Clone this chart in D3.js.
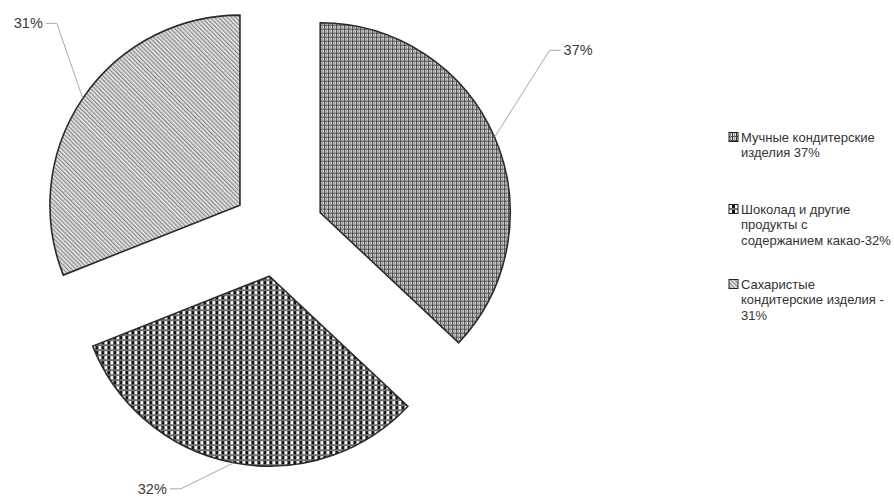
<!DOCTYPE html>
<html><head><meta charset="utf-8">
<script src="https://cdnjs.cloudflare.com/ajax/libs/d3/7.8.5/d3.min.js"></script>
<style>
html,body{margin:0;padding:0;background:#fff;}
svg{display:block;}
text{font-family:"Liberation Sans",Arial,sans-serif;}
</style></head>
<body><svg id="chart" width="894" height="500"></svg>
<script>
// ---- data ----
const categories = ["Мучные кондитерские изделия 37%", "Шоколад и другие продукты с содержанием какао-32%", "Сахаристые кондитерские изделия - 31%"];
const legendLines = [["Мучные кондитерские", "изделия 37%"], ["Шоколад и другие", "продукты с", "содержанием какао-32%"], ["Сахаристые", "кондитерские изделия -", "31%"]];
const values = [37, 32, 31];
const dataLabels = ["37%", "32%", "31%"];

// ---- layout ----
const W = 894, H = 500;
const cx = 278, cy = 231, R = 190, explode = 46;
const labelElbow = [[55, -87, 1], [-53, 26, -1], [-26, -75, -1]]; // dx,dy from arc midpoint, direction
const svg = d3.select("#chart");
const defs = svg.append("defs");

// pattern 1: plaid grid
const p1 = defs.append("pattern").attr("id", "pat0").attr("patternUnits", "userSpaceOnUse").attr("width", 4).attr("height", 4);
p1.append("rect").attr("width", 4).attr("height", 4).attr("fill", "#e2e2e2");
p1.append("rect").attr("x", 0).attr("y", 0).attr("width", 1).attr("height", 4).attr("fill", "#333");
p1.append("rect").attr("x", 0).attr("y", 0).attr("width", 4).attr("height", 1).attr("fill", "#444");
p1.append("rect").attr("x", 2).attr("y", 0).attr("width", 1).attr("height", 4).attr("fill", "#8a8a8a");

// pattern 2: weave checker
const p2 = defs.append("pattern").attr("id", "pat1").attr("patternUnits", "userSpaceOnUse").attr("width", 6).attr("height", 5);
p2.append("rect").attr("width", 6).attr("height", 5).attr("fill", "#727272");
p2.append("rect").attr("x", 0).attr("y", 0).attr("width", 3).attr("height", 3).attr("fill", "#111");
p2.append("rect").attr("x", 3).attr("y", 0).attr("width", 3).attr("height", 3).attr("fill", "#fafafa");

// pattern 3: fine diagonal stripes
const p3 = defs.append("pattern").attr("id", "pat2").attr("patternUnits", "userSpaceOnUse").attr("width", 3).attr("height", 3)
  .attr("patternTransform", "rotate(-45)");
p3.append("rect").attr("width", 3).attr("height", 3).attr("fill", "#ececec");
p3.append("rect").attr("x", 0).attr("y", 0).attr("width", 1.4).attr("height", 3).attr("fill", "#8c8c8c");

const pie = d3.pie().sort(null).value(d => d)(values);
const arc = d3.arc().innerRadius(0).outerRadius(R);

const g = svg.append("g").attr("transform", `translate(${cx},${cy})`);
pie.forEach((d, i) => {
  const mid = (d.startAngle + d.endAngle) / 2;
  const ox = explode * Math.sin(mid), oy = -explode * Math.cos(mid);
  const sg = g.append("g").attr("transform", `translate(${ox},${oy})`);
  sg.append("path").attr("d", arc(d)).attr("fill", `url(#pat${i})`)
    .attr("stroke", "#2a2a2a").attr("stroke-width", 1.6).attr("stroke-linejoin", "miter");
  // leader
  const ax = R * Math.sin(mid), ay = -R * Math.cos(mid);
  const [edx, edy, dir] = labelElbow[i];
  const ex = ax + edx, ey = ay + edy;
  sg.append("polyline").attr("points", `${ax},${ay} ${ex},${ey} ${ex + dir * 11},${ey}`)
    .attr("fill", "none").attr("stroke", "#a8a8a8").attr("stroke-width", 1);
  sg.append("text").attr("x", ex + dir * 14).attr("y", ey).attr("dy", "0.35em")
    .attr("text-anchor", dir > 0 ? "start" : "end")
    .attr("font-size", 14.5).attr("fill", "#3a3a3a").text(dataLabels[i]);
});

// legend
const legendTop = [137, 209, 284];
const lg = svg.append("g");
legendLines.forEach((lines, i) => {
  const y0 = legendTop[i];
  lg.append("rect").attr("x", 729).attr("y", y0 - 4.5).attr("width", 9).attr("height", 9)
    .attr("fill", `url(#pat${i})`).attr("stroke", "#222").attr("stroke-width", 1);
  const t = lg.append("text").attr("x", 741).attr("y", y0)
    .attr("font-size", 13).attr("fill", "#333");
  lines.forEach((ln, j) => {
    t.append("tspan").attr("x", 741).attr("dy", j === 0 ? "0.35em" : "15.5px").text(ln);
  });
});
</script>
</body></html>
